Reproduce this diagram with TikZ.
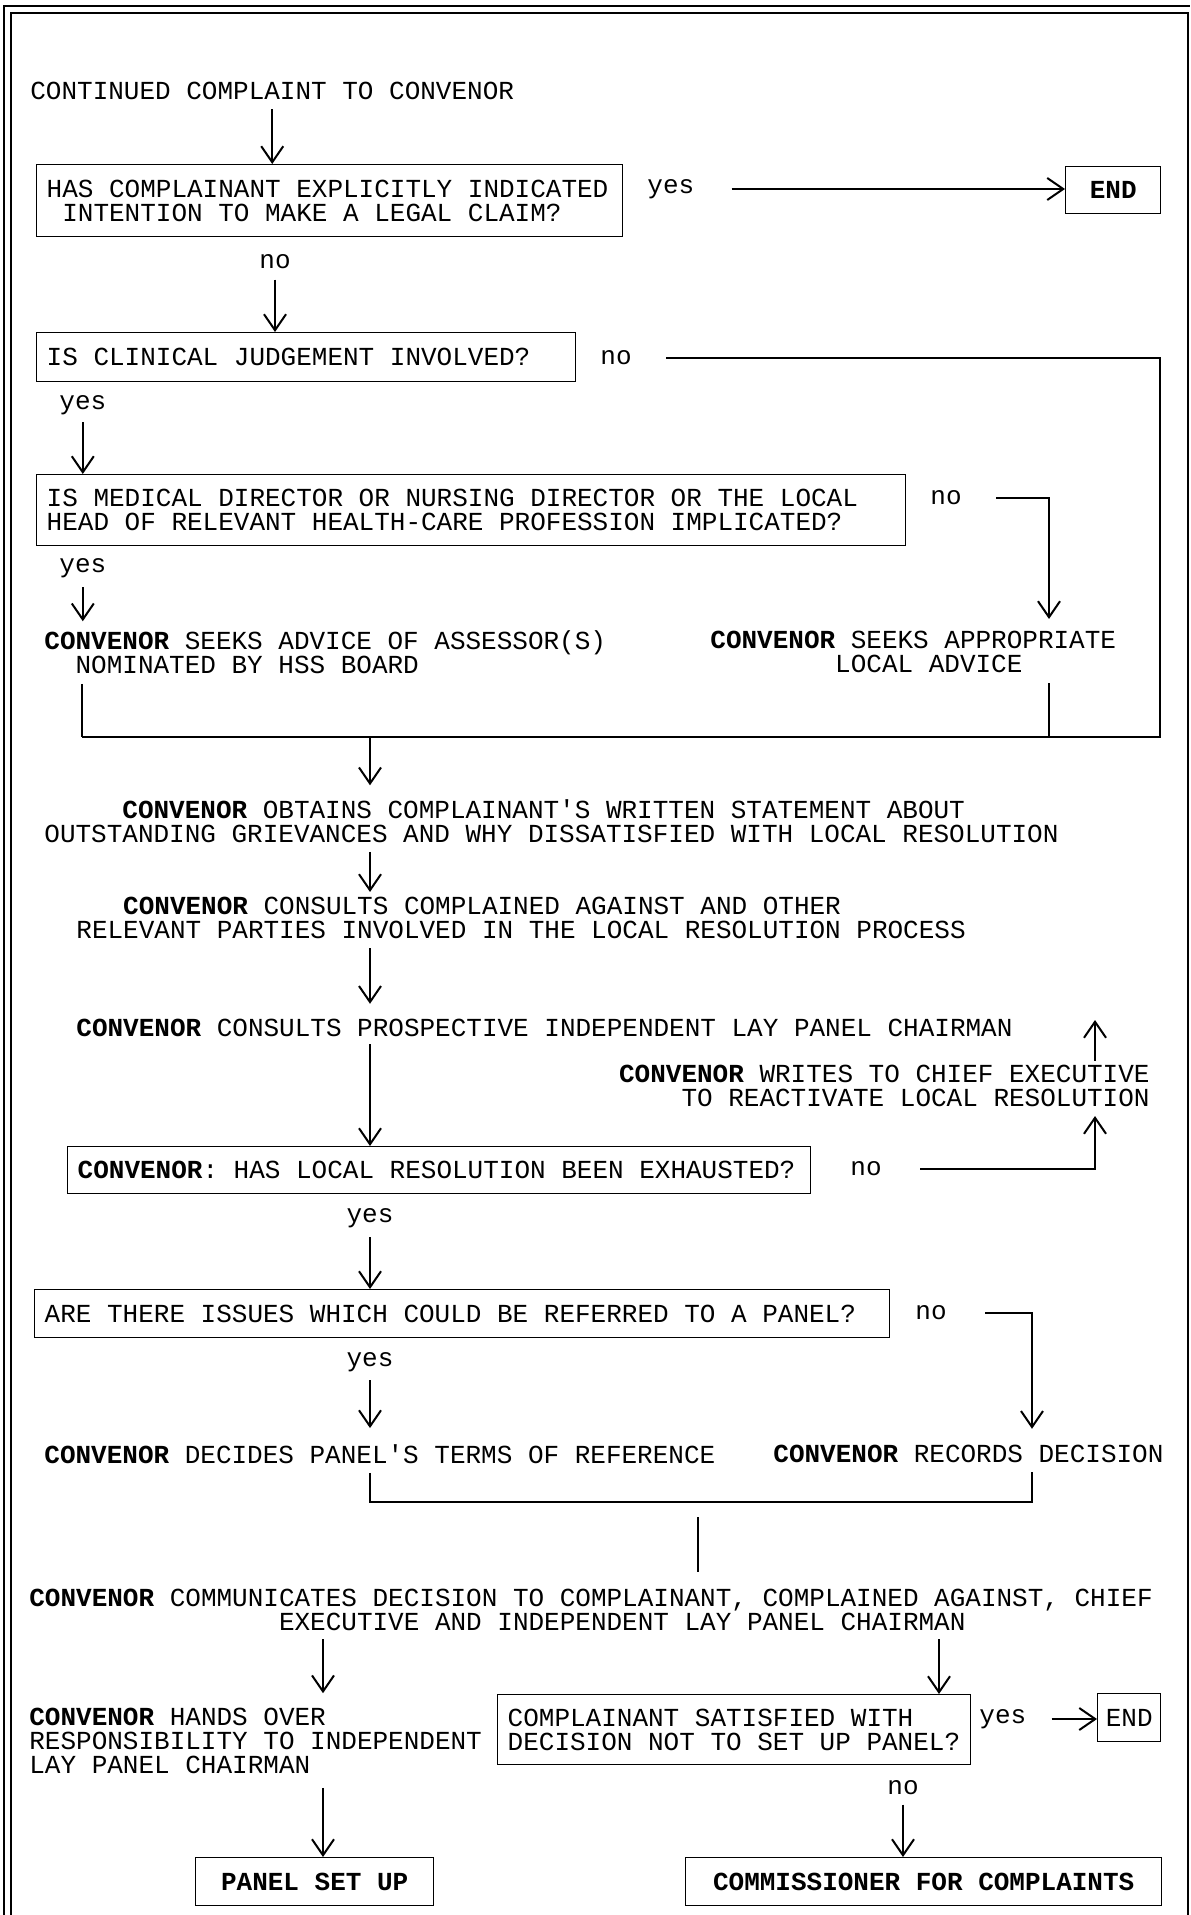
\documentclass[tikz,border=0pt]{standalone}
\usepackage{fontspec}
\setmonofont{Liberation Mono}
\usetikzlibrary{arrows.meta}
\newcommand\cv{\textbf{CONVENOR}}
\newcommand\indt[1]{\hspace*{#1\fontcharwd\font`X}}
\tikzset{
  every node/.style={font=\ttfamily\fontsize{13}{11.8}\selectfont},
  txt/.style={inner sep=0pt, anchor=west, align=left},
  qbox/.style={draw, line width=0.7pt, anchor=north west, align=flush left, inner xsep=5pt, inner ysep=0pt},
  endbox/.style={draw, line width=0.7pt, anchor=north west, inner sep=0pt},
  line/.style={line width=1pt},
  arr/.style={line width=1pt, -{Straight Barb[length=8pt,width=11pt]}}
}
\begin{document}
\begin{tikzpicture}[x=0.5pt, y=-0.5pt]
\useasboundingbox (0,0) rectangle (1190,1915);
% frame
\draw[line] (4,1915) -- (4,6) -- (1190,6);
\draw[line] (11,1915) -- (11,13) -- (1188,13) -- (1188,1915);

\node[txt] (start) at (30,91) {CONTINUED COMPLAINT TO CONVENOR};
\node[qbox, text width=283pt, minimum height=36pt] (qlegal) at (36,164)
  {HAS COMPLAINANT EXPLICITLY INDICATED\\\indt1INTENTION TO MAKE A LEGAL CLAIM?};
\node[txt] (yes1) at (647,189) {yes};
\node[endbox, minimum width=47.5pt, minimum height=23.5pt] (end1) at (1065,166) {\textbf{END}};
\node[txt] (no1) at (259,262) {no};
\node[qbox, text width=259.5pt, minimum height=24.5pt] (qclin) at (36,332) {IS CLINICAL JUDGEMENT INVOLVED?};
\node[txt] (no2) at (600,358) {no};
\node[txt] (yes2) at (59,405) {yes};
\node[qbox, text width=424.5pt, minimum height=35.5pt] (qmed) at (36,474)
  {IS MEDICAL DIRECTOR OR NURSING DIRECTOR OR THE LOCAL\\HEAD OF RELEVANT HEALTH-CARE PROFESSION IMPLICATED?};
\node[txt] (no3) at (930,498) {no};
\node[txt] (yes3) at (59,568) {yes};
\node[txt] (seekA) at (44,652) {\cv{} SEEKS ADVICE OF ASSESSOR(S)\\\indt2NOMINATED BY HSS BOARD};
\node[txt] (seekL) at (710,652) {\cv{} SEEKS APPROPRIATE\\\indt8LOCAL ADVICE};
\node[txt] (obtain) at (44,821)
  {\indt5\cv{} OBTAINS COMPLAINANT'S WRITTEN STATEMENT ABOUT\\OUTSTANDING GRIEVANCES AND WHY DISSATISFIED WITH LOCAL RESOLUTION};
\node[txt] (consult) at (76,918)
  {\indt3\cv{} CONSULTS COMPLAINED AGAINST AND OTHER\\RELEVANT PARTIES INVOLVED IN THE LOCAL RESOLUTION PROCESS};
\node[txt] (prosp) at (76,1028) {\cv{} CONSULTS PROSPECTIVE INDEPENDENT LAY PANEL CHAIRMAN};
\node[txt, anchor=east, align=right] (writes) at (1150,1086)
  {\cv{} WRITES TO CHIEF EXECUTIVE\\TO REACTIVATE LOCAL RESOLUTION};
\node[qbox, text width=361.5pt, minimum height=23.5pt] (qexh) at (67,1146) {\cv: HAS LOCAL RESOLUTION BEEN EXHAUSTED?};
\node[txt] (no4) at (850,1169) {no};
\node[txt, anchor=center] (yes4) at (370,1218) {yes};
\node[qbox, text width=417.5pt, minimum height=24pt] (qpanel) at (34,1289) {ARE THERE ISSUES WHICH COULD BE REFERRED TO A PANEL?};
\node[txt] (no5) at (915,1313) {no};
\node[txt, anchor=center] (yes5) at (370,1362) {yes};
\node[txt] (decides) at (44,1454) {\cv{} DECIDES PANEL'S TERMS OF REFERENCE};
\node[txt] (records) at (773,1454) {\cv{} RECORDS DECISION};
\node[txt] (commun) at (29,1610)
  {\cv{} COMMUNICATES DECISION TO COMPLAINANT, COMPLAINED AGAINST, CHIEF\\\indt{16}EXECUTIVE AND INDEPENDENT LAY PANEL CHAIRMAN};
\node[txt] (hands) at (29,1741) {\cv{} HANDS OVER\\RESPONSIBILITY TO INDEPENDENT\\LAY PANEL CHAIRMAN};
\node[qbox, text width=226.5pt, minimum height=35pt] (qsat) at (497,1694)
  {COMPLAINANT SATISFIED WITH\\DECISION NOT TO SET UP PANEL?};
\node[txt] (yes6) at (979,1719) {yes};
\node[endbox, minimum width=31.5pt, minimum height=24pt] (end2) at (1097,1693) {END};
\node[txt, anchor=center] (no6) at (903,1788) {no};
\node[endbox, minimum width=119pt, minimum height=24pt] (setup) at (195,1857) {\textbf{PANEL SET UP}};
\node[endbox, minimum width=238pt, minimum height=24pt] (commiss) at (685,1857) {\textbf{COMMISSIONER FOR COMPLAINTS}};

\coordinate (mergeL) at (82,737);
\coordinate (mergeC) at (370,737);
\coordinate (mergeM) at (1049,737);
\coordinate (mergeR) at (1160,737);
\coordinate (spine) at (370,0);
\coordinate (backX) at (1095,0);
\coordinate (backTop) at (1095,1020);
\coordinate (joinL) at (370,1502);
\coordinate (joinC) at (698,1502);
\coordinate (joinR) at (1032,1502);
\coordinate (leftX) at (323,0);
\coordinate (rightX) at (939,0);

\draw[arr, shorten <=4.5pt] (start.south) -- (start.south |- qlegal.north);
\draw[arr] ([xshift=18.5pt]yes1.east) -- (yes1.east -| end1.west);
\draw[arr, shorten <=5pt] (no1.south) -- (no1.south |- qclin.north);
\draw[line] ([xshift=17pt]no2.east) -| (mergeR) -- (mergeL);
\draw[arr, shorten <=3.5pt] (yes2.south) -- (yes2.south |- qmed.north);
\draw[arr, shorten >=6pt] ([xshift=17pt]no3.east) -| (mergeM |- seekL.north);
\draw[arr, shorten <=4.5pt, shorten >=4.5pt] (yes3.south) -- (yes3.south |- seekA.north);
\draw[line, shorten <=5pt] (mergeL |- seekA.south) -- (mergeL);
\draw[line, shorten <=5pt] (mergeM |- seekL.south) -- (mergeM);
\draw[arr, shorten >=7pt] (mergeC) -- (mergeC |- obtain.north);
\draw[arr, shorten <=4.5pt, shorten >=2.5pt] (spine |- obtain.south) -- (spine |- consult.north);
\draw[arr, shorten <=4.5pt, shorten >=7.5pt] (spine |- consult.south) -- (spine |- prosp.north);
\draw[arr, shorten <=3.5pt] (spine |- prosp.south) -- (spine |- qexh.north);
\draw[arr, shorten >=4.5pt] ([xshift=19pt]no4.east) -| (backX |- writes.south);
\draw[arr, shorten <=2pt] (backX |- writes.north) -- (backTop);
\draw[arr, shorten <=4.5pt] (yes4.south) -- (yes4.south |- qpanel.north);
\draw[arr, shorten >=8pt] ([xshift=19pt]no5.east) -| (joinR |- records.north);
\draw[arr, shorten <=4pt, shorten >=8pt] (yes5.south) -- (yes5.south |- decides.north);
\draw[line, shorten <=4.5pt, shorten >=4.5pt] (joinL |- decides.south) -- (joinL) -- (joinR) -- (joinR |- records.south);
\draw[line, shorten <=7.5pt, shorten >=8.5pt] (joinC) -- (joinC |- commun.north);
\draw[arr, shorten <=4pt, shorten >=7.5pt] (leftX |- commun.south) -- (leftX |- hands.north);
\draw[arr, shorten <=4pt] (rightX |- commun.south) -- (rightX |- qsat.north);
\draw[arr] ([xshift=12.5pt]yes6.east) -- (yes6.east -| end2.west);
\draw[arr, shorten <=4.5pt] (no6.south) -- (no6.south |- commiss.north);
\draw[arr, shorten <=7pt] (leftX |- hands.south) -- (leftX |- setup.north);
\end{tikzpicture}
\end{document}
